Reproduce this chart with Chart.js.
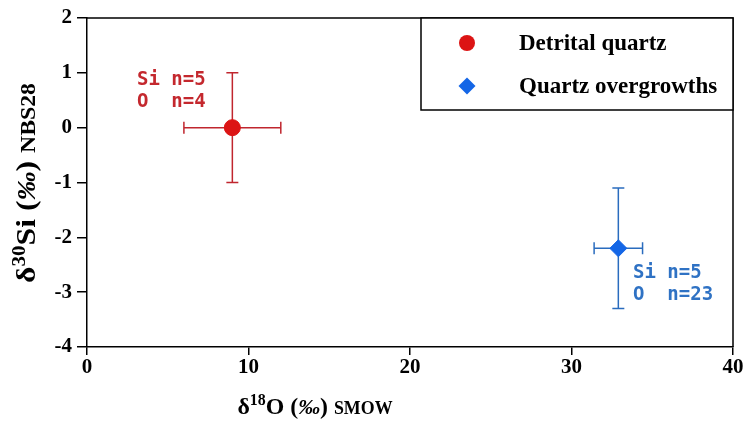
<!DOCTYPE html>
<html>
<head>
<meta charset="utf-8">
<script src="https://cdn.jsdelivr.net/npm/chart.js@4"></script>
<style>
  body { margin: 0; background: #fff; }
  #wrap { width: 745px; height: 428px; }
</style>
</head>
<body>
<div id="wrap"><canvas id="myChart"></canvas></div>
<script>
const seriesNames = ["Detrital quartz", "Quartz overgrowths"];
const o18 = [9, 32.9];
const si30 = [0, -2.2];
const o18Err = [3, 1.5];
const si30Err = [1, 1.1];
const counts = [["Si n=5", "O  n=4"], ["Si n=5", "O  n=23"]];
const xTicks = [0, 10, 20, 30, 40];
const yTicks = [2, 1, 0, -1, -2, -3, -4];

const fillColors = ["#dc1414", "#1466e6"];
const barColors = ["#c0262e", "#2a6cbe"];
const textColors = ["#c4282e", "#2f72c4"];

const serif = "'Liberation Serif', 'DejaVu Serif', serif";

// error bars, frame, annotations, legend, axis titles
const extras = {
  id: "extras",
  beforeDatasetsDraw(chart) {
    const ctx = chart.ctx;
    const xs = chart.scales.x, ys = chart.scales.y;
    ctx.save();
    ctx.lineWidth = 1.5;
    o18.forEach((v, i) => {
      const px = xs.getPixelForValue(v), py = ys.getPixelForValue(si30[i]);
      const x1 = xs.getPixelForValue(v - o18Err[i]), x2 = xs.getPixelForValue(v + o18Err[i]);
      const y1 = ys.getPixelForValue(si30[i] + si30Err[i]), y2 = ys.getPixelForValue(si30[i] - si30Err[i]);
      ctx.strokeStyle = barColors[i];
      ctx.beginPath();
      ctx.moveTo(x1, py); ctx.lineTo(x2, py);
      ctx.moveTo(x1, py - 6); ctx.lineTo(x1, py + 6);
      ctx.moveTo(x2, py - 6); ctx.lineTo(x2, py + 6);
      ctx.moveTo(px, y1); ctx.lineTo(px, y2);
      ctx.moveTo(px - 6, y1); ctx.lineTo(px + 6, y1);
      ctx.moveTo(px - 6, y2); ctx.lineTo(px + 6, y2);
      ctx.stroke();
    });
    ctx.restore();
  },
  afterDraw(chart) {
    const ctx = chart.ctx;
    const a = chart.chartArea;
    ctx.save();
    // top + right frame
    ctx.strokeStyle = "#000";
    ctx.lineWidth = 1.5;
    ctx.beginPath();
    ctx.moveTo(a.left, a.top); ctx.lineTo(a.right, a.top); ctx.lineTo(a.right, a.bottom);
    ctx.stroke();

    // n annotations
    ctx.font = "bold 19px 'DejaVu Sans Mono', monospace";
    ctx.textBaseline = "middle";
    ctx.textAlign = "left";
    const anchors = [[137, 80], [633, 273]];
    counts.forEach((lines, i) => {
      ctx.fillStyle = textColors[i];
      lines.forEach((t, j) => ctx.fillText(t, anchors[i][0], anchors[i][1] + j * 22));
    });

    // legend box
    const lx = 421, ly = a.top, lw = a.right - 421, lh = 92;
    ctx.fillStyle = "#fff";
    ctx.fillRect(lx, ly, lw, lh);
    ctx.strokeStyle = "#000";
    ctx.lineWidth = 1.5;
    ctx.strokeRect(lx, ly, lw, lh);
    ctx.font = "bold 23px " + serif;
    seriesNames.forEach((n, i) => {
      const cy = ly + 25 + i * 43;
      ctx.fillStyle = fillColors[i];
      ctx.beginPath();
      if (i === 0) {
        ctx.arc(467, cy, 8, 0, Math.PI * 2);
      } else {
        ctx.moveTo(467, cy - 8.5); ctx.lineTo(475.5, cy); ctx.lineTo(467, cy + 8.5); ctx.lineTo(458.5, cy);
        ctx.closePath();
      }
      ctx.fill();
      ctx.fillStyle = "#000";
      ctx.fillText(n, 519, cy + 1);
    });

    // axis titles with superscripts
    const drawParts = (parts, x, y) => {
      let cx = x;
      parts.forEach(p => {
        ctx.font = p.f;
        ctx.fillText(p.t, cx, y + (p.dy || 0));
        cx += ctx.measureText(p.t).width;
      });
    };
    const measureParts = parts => parts.reduce((s, p) => { ctx.font = p.f; return s + ctx.measureText(p.t).width; }, 0);
    ctx.fillStyle = "#000";
    ctx.textBaseline = "alphabetic";
    const xParts = [
      { t: "\u03b4", f: "bold 24px " + serif },
      { t: "18", f: "bold 16px " + serif, dy: -9 },
      { t: "O (", f: "bold 24px " + serif },
      { t: "\u2030", f: "italic bold 22px " + serif },
      { t: ") ", f: "bold 24px " + serif },
      { t: "SMOW", f: "bold 18px " + serif }
    ];
    const xw = measureParts(xParts);
    ctx.save();
    ctx.translate(315, 414);
    ctx.scale(155 / xw, 1);
    drawParts(xParts, -xw / 2, 0);
    ctx.restore();

    const yParts = [
      { t: "\u03b4", f: "bold 24px " + serif },
      { t: "30", f: "bold 16px " + serif, dy: -9 },
      { t: "Si (", f: "bold 24px " + serif },
      { t: "\u2030", f: "italic bold 22px " + serif },
      { t: ") ", f: "bold 24px " + serif },
      { t: "NBS28", f: "bold 18px " + serif }
    ];
    const yw = measureParts(yParts);
    ctx.translate(35, 183);
    ctx.rotate(-Math.PI / 2);
    ctx.scale(200 / yw, 1.12);
    drawParts(yParts, -yw / 2, 0);
    ctx.restore();
  }
};

const ctx = document.getElementById("myChart").getContext("2d");
const chart = new Chart(ctx, {
  type: "scatter",
  data: {
    datasets: seriesNames.map((n, i) => ({
      label: n,
      data: [{ x: o18[i], y: si30[i] }],
      backgroundColor: fillColors[i],
      borderColor: fillColors[i],
      pointStyle: i === 0 ? "circle" : "rectRot",
      pointRadius: i === 0 ? 8 : 8.5,
      pointHoverRadius: i === 0 ? 8 : 8.5
    }))
  },
  options: {
    responsive: true,
    maintainAspectRatio: false,
    animation: false,
    layout: { padding: { top: 18, right: 12, left: 0, bottom: 0 } },
    plugins: { legend: { display: false }, tooltip: { enabled: false } },
    scales: {
      x: {
        type: "linear",
        min: 0, max: 40,
        afterFit: s => { s.height = 81; },
        afterBuildTicks: s => { s.ticks = xTicks.map(v => ({ value: v })); },
        border: { color: "#000", width: 1.5 },
        grid: { drawOnChartArea: false, color: "#000", tickLength: 8, lineWidth: 1.5 },
        ticks: { color: "#000", font: { family: serif, size: 21, weight: "bold" }, padding: 0 }
      },
      y: {
        type: "linear",
        min: -4, max: 2,
        afterFit: s => { s.width = 87; },
        afterBuildTicks: s => { s.ticks = yTicks.map(v => ({ value: v })); },
        border: { color: "#000", width: 1.5 },
        grid: { drawOnChartArea: false, color: "#000", tickLength: 10, lineWidth: 1.5 },
        ticks: { color: "#000", font: { family: serif, size: 21, weight: "bold" }, padding: 5 }
      }
    }
  },
  plugins: [extras]
});
</script>
</body>
</html>
